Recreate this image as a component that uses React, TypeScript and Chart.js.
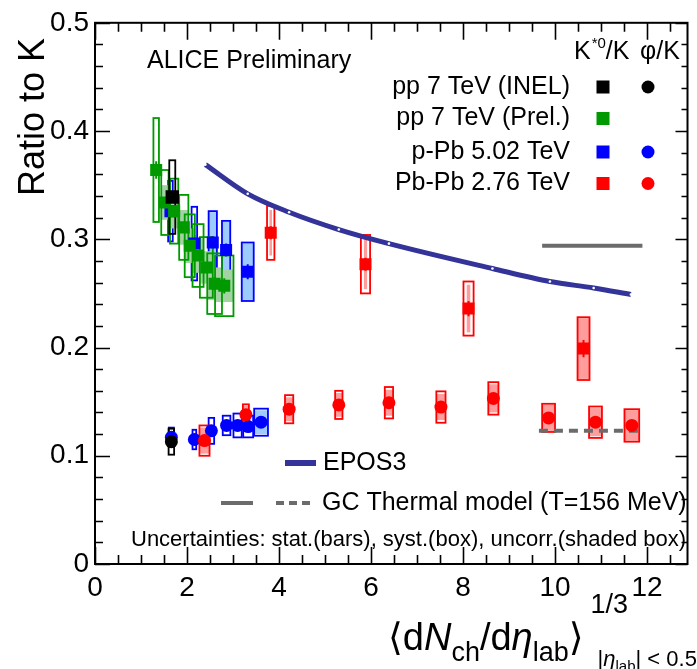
import React, { useEffect, useRef } from "react";
import { Chart, registerables } from "chart.js";
Chart.register(...registerables);

const FONT = '"Liberation Sans", Arial, Helvetica, "DejaVu Sans", sans-serif';
const W = 697;
const H = 669;

// ---------- axes ----------
const xTickValues = [0, 2, 4, 6, 8, 10, 12];
const yTickValues = [0, 0.1, 0.2, 0.3, 0.4, 0.5];
const xMin = 0;
const xMax = 12.88;
const yMin = 0;
const yMax = 0.5;

// ---------- K*0/K, pp 7 TeV (INEL) ----------
const ppInelKstX = [1.68];
const ppInelKstY = [0.339];
const ppInelKstStat = [0.004];
const ppInelKstSyst = [0.034];
const ppInelKstUnc = [0];
const ppInelKstXErr = [0.065];

// ---------- phi/K, pp 7 TeV (INEL) ----------
const ppInelPhiX = [1.66];
const ppInelPhiY = [0.113];
const ppInelPhiStat = [0.003];
const ppInelPhiSyst = [0.012];
const ppInelPhiUnc = [0];
const ppInelPhiXErr = [0.06];

// ---------- K*0/K, pp 7 TeV (Prel.) ----------
const ppPrelKstX = [1.33, 1.52, 1.72, 1.93, 2.06, 2.24, 2.42, 2.6, 2.81];
const ppPrelKstY = [0.364, 0.334, 0.326, 0.311, 0.294, 0.285, 0.274, 0.259, 0.257];
const ppPrelKstStat = [0.008, 0.005, 0.005, 0.005, 0.005, 0.005, 0.005, 0.006, 0.007];
const ppPrelKstSyst = [0.048, 0.03, 0.03, 0.03, 0.029, 0.029, 0.028, 0.028, 0.028];
const ppPrelKstUnc = [0, 0.016, 0.016, 0.016, 0.016, 0.016, 0.015, 0.015, 0.015];
const ppPrelKstXErr = [0.06, 0.08, 0.09, 0.1, 0.11, 0.12, 0.14, 0.16, 0.2];

// ---------- K*0/K, p-Pb 5.02 TeV ----------
const pPbKstX = [1.64, 2.16, 2.56, 2.85, 3.32];
const pPbKstY = [0.326, 0.296, 0.297, 0.29, 0.27];
const pPbKstStat = [0.008, 0.008, 0.006, 0.006, 0.007];
const pPbKstSyst = [0.028, 0.034, 0.029, 0.027, 0.027];
const pPbKstUnc = [0, 0, 0.028, 0.026, 0.026];
const pPbKstXErr = [0.05, 0.06, 0.09, 0.09, 0.13];

// ---------- phi/K, p-Pb 5.02 TeV ----------
const pPbPhiX = [1.66, 2.16, 2.53, 2.86, 3.1, 3.33, 3.61];
const pPbPhiY = [0.117, 0.115, 0.123, 0.128, 0.128, 0.127, 0.131];
const pPbPhiStat = [0.002, 0.002, 0.002, 0.002, 0.002, 0.002, 0.002];
const pPbPhiSyst = [0.009, 0.009, 0.012, 0.009, 0.011, 0.01, 0.0125];
const pPbPhiUnc = [0, 0, 0, 0, 0, 0, 0.011];
const pPbPhiXErr = [0.055, 0.04, 0.06, 0.083, 0.09, 0.108, 0.15];

// ---------- K*0/K, Pb-Pb 2.76 TeV ----------
const pbPbKstX = [3.82, 5.88, 8.12, 10.62];
const pbPbKstY = [0.306, 0.277, 0.236, 0.199];
const pbPbKstStat = [0.006, 0.006, 0.007, 0.008];
const pbPbKstSyst = [0.025, 0.027, 0.025, 0.029];
const pbPbKstUnc = [0.021, 0.023, 0.022, 0.028];
const pbPbKstXErr = [0.08, 0.1, 0.11, 0.13];

// ---------- phi/K, Pb-Pb 2.76 TeV ----------
const pbPbPhiX = [2.38, 3.28, 4.22, 5.3, 6.39, 7.52, 8.66, 9.86, 10.88, 11.67];
const pbPbPhiY = [0.114, 0.138, 0.143, 0.147, 0.149, 0.145, 0.153, 0.135, 0.131, 0.128];
const pbPbPhiStat = [0.003, 0.003, 0.003, 0.003, 0.003, 0.003, 0.003, 0.003, 0.003, 0.003];
const pbPbPhiSyst = [0.014, 0.0095, 0.013, 0.013, 0.0145, 0.0145, 0.015, 0.013, 0.0145, 0.015];
const pbPbPhiUnc = [0.012, 0.008, 0.011, 0.011, 0.012, 0.012, 0.013, 0.012, 0.013, 0.014];
const pbPbPhiXErr = [0.11, 0.065, 0.09, 0.08, 0.09, 0.1, 0.11, 0.14, 0.14, 0.16];

// ---------- EPOS3 (K*0/K) ----------
const eposX = [2.4, 3.32, 4.22, 5.3, 6.39, 8.64, 9.89, 10.84, 11.65];
const eposY = [0.369, 0.342, 0.325, 0.309, 0.296, 0.273, 0.261, 0.255, 0.249];

// ---------- GC thermal model (T=156 MeV) ----------
const thermalKstX = [9.72, 11.9];
const thermalKstY = [0.294, 0.294];
const thermalPhiX = [9.65, 11.85];
const thermalPhiY = [0.123, 0.123];

type Series = {
  x: number[];
  y: number[];
  stat: number[];
  syst: number[];
  unc: number[];
  xErr: number[];
  color: string;
  shade: string;
  shadeFrac?: number[];
};

const GREEN = "#009a00";
const BLUE = "#0000ff";
const RED = "#ff0000";
const NAVY = "#333399";
const GRAY = "#6b6b6b";

const SERIES: Series[] = [
  { x: pPbKstX, y: pPbKstY, stat: pPbKstStat, syst: pPbKstSyst, unc: pPbKstUnc, xErr: pPbKstXErr, color: BLUE, shade: "#9dcbff" },
  { x: pPbPhiX, y: pPbPhiY, stat: pPbPhiStat, syst: pPbPhiSyst, unc: pPbPhiUnc, xErr: pPbPhiXErr, color: BLUE, shade: "#9dcbff" },
  { x: ppPrelKstX, y: ppPrelKstY, stat: ppPrelKstStat, syst: ppPrelKstSyst, unc: ppPrelKstUnc, xErr: ppPrelKstXErr, color: GREEN, shade: "#a3d3a3" },
  { x: ppInelKstX, y: ppInelKstY, stat: ppInelKstStat, syst: ppInelKstSyst, unc: ppInelKstUnc, xErr: ppInelKstXErr, color: "#000", shade: "#aaa" },
  { x: ppInelPhiX, y: ppInelPhiY, stat: ppInelPhiStat, syst: ppInelPhiSyst, unc: ppInelPhiUnc, xErr: ppInelPhiXErr, color: "#000", shade: "#aaa" },
  { x: pbPbPhiX, y: pbPbPhiY, stat: pbPbPhiStat, syst: pbPbPhiSyst, unc: pbPbPhiUnc, xErr: pbPbPhiXErr, color: RED, shade: "#ff9c9c" },
  { x: pbPbKstX, y: pbPbKstY, stat: pbPbKstStat, syst: pbPbKstSyst, unc: pbPbKstUnc, xErr: pbPbKstXErr, color: RED, shade: "#ff9c9c", shadeFrac: [0.35, 0.35, 0.35, 1] },
];

const pts = (xs: number[], ys: number[]) => xs.map((x, i) => ({ x, y: ys[i] }));

const boxesPlugin = {
  id: "errBoxes",
  beforeDatasetsDraw(chart: any) {
    const { ctx, chartArea } = chart;
    const xs = chart.scales.x;
    const ys = chart.scales.y;
    ctx.save();
    ctx.beginPath();
    ctx.rect(chartArea.left, chartArea.top, chartArea.width, chartArea.height);
    ctx.clip();
    for (const s of SERIES) {
      s.x.forEach((xv, i) => {
        if (s.unc[i] <= 0) return;
        const px = xs.getPixelForValue(xv);
        const hw = (xs.getPixelForValue(xv + s.xErr[i]) - px) * (s.shadeFrac ? s.shadeFrac[i] : 1);
        const t = ys.getPixelForValue(s.y[i] + s.unc[i]);
        const b = ys.getPixelForValue(s.y[i] - s.unc[i]);
        ctx.fillStyle = s.shade;
        ctx.fillRect(px - hw, t, 2 * hw, b - t);
      });
      s.x.forEach((xv, i) => {
        const px = xs.getPixelForValue(xv);
        const hw = xs.getPixelForValue(xv + s.xErr[i]) - px;
        const t = ys.getPixelForValue(s.y[i] + s.syst[i]);
        const b = ys.getPixelForValue(s.y[i] - s.syst[i]);
        ctx.strokeStyle = s.color;
        ctx.lineWidth = 1.8;
        ctx.strokeRect(px - hw, t, 2 * hw, b - t);
      });
      s.x.forEach((xv, i) => {
        const px = xs.getPixelForValue(xv);
        const t = ys.getPixelForValue(s.y[i] + s.stat[i]);
        const b = ys.getPixelForValue(s.y[i] - s.stat[i]);
        ctx.strokeStyle = s.color;
        ctx.lineWidth = 2;
        ctx.beginPath();
        ctx.moveTo(px, t);
        ctx.lineTo(px, b);
        ctx.stroke();
      });
    }
    ctx.restore();
  },
};

function drawRich(ctx: CanvasRenderingContext2D, x: number, y: number, parts: { t: string; size: number; italic?: boolean; dy?: number }[]) {
  for (const p of parts) {
    ctx.font = `${p.italic ? "italic " : ""}${p.size}px ${FONT}`;
    ctx.fillText(p.t, x, y + (p.dy || 0));
    x += ctx.measureText(p.t).width;
  }
  return x;
}

const decorPlugin = {
  id: "decor",
  afterDraw(chart: any) {
    const { ctx, chartArea } = chart;
    const xs = chart.scales.x;
    const ys = chart.scales.y;
    const { left, right, top, bottom } = chartArea;
    ctx.save();
    ctx.strokeStyle = "#000";
    ctx.lineWidth = 2;
    ctx.strokeRect(left, top, right - left, bottom - top);
    ctx.lineWidth = 1.6;
    for (let v = 0; v <= xMax + 1e-9; v += 0.5) {
      const px = Math.round(xs.getPixelForValue(v)) + 0.5;
      const major = Math.abs(v / 2 - Math.round(v / 2)) < 1e-6;
      const L = major ? 17 : 9;
      ctx.beginPath();
      ctx.moveTo(px, bottom);
      ctx.lineTo(px, bottom - L);
      ctx.moveTo(px, top);
      ctx.lineTo(px, top + L);
      ctx.stroke();
    }
    for (let k = 0; k <= 25; k++) {
      const v = k * 0.02;
      const py = Math.round(ys.getPixelForValue(v)) + 0.5;
      const major = k % 5 === 0;
      const L = major ? 15 : 8;
      const R = major ? 12 : 6;
      ctx.beginPath();
      ctx.moveTo(left, py);
      ctx.lineTo(left + L, py);
      ctx.moveTo(right, py);
      ctx.lineTo(right - R, py);
      ctx.stroke();
    }

    ctx.fillStyle = "#000";
    ctx.textBaseline = "alphabetic";
    ctx.textAlign = "left";

    // y title
    ctx.save();
    ctx.translate(44, 38);
    ctx.rotate(-Math.PI / 2);
    ctx.textAlign = "right";
    ctx.font = `36px ${FONT}`;
    ctx.fillText("Ratio to K", 0, 0);
    ctx.restore();

    // x title
    const base = 650;
    const e = drawRich(ctx, 388, base, [
      { t: "\u27E8", size: 38 },
      { t: "d", size: 38 },
      { t: "N", size: 38, italic: true },
      { t: "ch", size: 27, dy: 11 },
      { t: "/d", size: 38 },
      { t: "\u03B7", size: 38, italic: true },
      { t: "lab", size: 27, dy: 11 },
      { t: "\u27E9", size: 38 },
    ]);
    drawRich(ctx, e + 7, base - 37, [{ t: "1/3", size: 27 }]);
    drawRich(ctx, e + 14, base + 16, [
      { t: "|", size: 22 },
      { t: "\u03B7", size: 22, italic: true },
      { t: "lab", size: 15, dy: 5 },
      { t: "| < 0.5", size: 22 },
    ]);

    // ALICE label
    ctx.textBaseline = "middle";
    ctx.font = `25px ${FONT}`;
    ctx.fillText("ALICE Preliminary", 147, 61);

    // legend header
    const hx = drawRich(ctx, 574, 52, [{ t: "K", size: 25 }]);
    const hx2 = drawRich(ctx, hx + 1, 44, [{ t: "*0", size: 15 }]);
    drawRich(ctx, hx2, 52, [{ t: "/K", size: 25 }]);
    drawRich(ctx, 640, 52, [{ t: "\u03C6/K", size: 25 }]);

    const rows = [
      { label: "pp 7 TeV (INEL)", color: "#000", phi: true, y: 87 },
      { label: "pp 7 TeV (Prel.)", color: GREEN, phi: false, y: 118.5 },
      { label: "p-Pb 5.02 TeV", color: BLUE, phi: true, y: 152 },
      { label: "Pb-Pb 2.76 TeV", color: RED, phi: true, y: 183.5 },
    ];
    ctx.textAlign = "right";
    ctx.font = `25px ${FONT}`;
    for (const r of rows) {
      ctx.fillStyle = "#000";
      ctx.fillText(r.label, 570, r.y);
      ctx.fillStyle = r.color;
      ctx.fillRect(603 - 6.5, r.y - 6.5, 13, 13);
      if (r.phi) {
        ctx.beginPath();
        ctx.arc(648, r.y, 6.5, 0, Math.PI * 2);
        ctx.fill();
      }
    }

    // bottom legend
    ctx.textAlign = "left";
    ctx.fillStyle = "#000";
    ctx.strokeStyle = NAVY;
    ctx.lineWidth = 6;
    ctx.beginPath();
    ctx.moveTo(285, 463);
    ctx.lineTo(316, 463);
    ctx.stroke();
    ctx.font = `25px ${FONT}`;
    ctx.fillText("EPOS3", 323, 463);

    ctx.strokeStyle = GRAY;
    ctx.lineWidth = 4;
    ctx.beginPath();
    ctx.moveTo(221, 503);
    ctx.lineTo(253, 503);
    ctx.stroke();
    ctx.setLineDash([8, 5]);
    ctx.beginPath();
    ctx.moveTo(276, 503);
    ctx.lineTo(310, 503);
    ctx.stroke();
    ctx.setLineDash([]);
    ctx.fillText("GC Thermal model (T=156 MeV)", 322, 503);

    ctx.font = `22px ${FONT}`;
    ctx.fillText("Uncertainties: stat.(bars), syst.(box), uncorr.(shaded box)", 131, 540);
    ctx.restore();
  },
};

export default function App() {
  const ref = useRef<HTMLCanvasElement>(null);
  useEffect(() => {
    document.body.style.margin = "0";
    const canvas = ref.current!;
    const chart = new Chart(canvas, {
      type: "scatter",
      data: {
        datasets: [
          { label: "phi/K Pb-Pb", data: pts(pbPbPhiX, pbPbPhiY), pointStyle: "circle", pointRadius: 6.5, backgroundColor: RED, borderWidth: 0, order: 1 },
          { label: "K*/K Pb-Pb", data: pts(pbPbKstX, pbPbKstY), pointStyle: "rect", pointRadius: 8.5, backgroundColor: RED, borderWidth: 0, order: 2 },
          { label: "K*/K pp INEL", data: pts(ppInelKstX, ppInelKstY), pointStyle: "rect", pointRadius: 9.5, backgroundColor: "#000", borderWidth: 0, order: 3 },
          { label: "phi/K pp INEL", data: pts(ppInelPhiX, ppInelPhiY), pointStyle: "circle", pointRadius: 6.5, backgroundColor: "#000", borderWidth: 0, order: 3 },
          { label: "K*/K pp Prel", data: pts(ppPrelKstX, ppPrelKstY), pointStyle: "rect", pointRadius: 8.5, backgroundColor: GREEN, borderWidth: 0, order: 5 },
          { label: "K*/K p-Pb", data: pts(pPbKstX, pPbKstY), pointStyle: "rect", pointRadius: 8.5, backgroundColor: BLUE, borderWidth: 0, order: 6 },
          { label: "phi/K p-Pb", data: pts(pPbPhiX, pPbPhiY), pointStyle: "circle", pointRadius: 6.5, backgroundColor: BLUE, borderWidth: 0, order: 6 },
          { type: "line", label: "EPOS3", data: pts(eposX, eposY), borderColor: NAVY, borderWidth: 5, pointRadius: 1.3, pointBackgroundColor: "#fff", pointBorderWidth: 0, cubicInterpolationMode: "monotone", fill: false, order: 8 },
          { type: "line", label: "GC thermal K*", data: pts(thermalKstX, thermalKstY), borderColor: GRAY, borderWidth: 4, pointRadius: 0, fill: false, order: 9 },
          { type: "line", label: "GC thermal phi", data: pts(thermalPhiX, thermalPhiY), borderColor: GRAY, borderWidth: 4, borderDash: [9, 6], pointRadius: 0, fill: false, order: 9 },
        ] as any,
      },
      options: {
        responsive: false,
        maintainAspectRatio: false,
        animation: false,
        devicePixelRatio: 1,
        layout: { padding: { left: 0, right: 7, top: 20, bottom: 0 } },
        plugins: { legend: { display: false }, tooltip: { enabled: false } },
        scales: {
          x: {
            type: "linear",
            min: xMin,
            max: xMax,
            grid: { display: false, drawTicks: false },
            border: { display: false },
            ticks: { font: { size: 28, family: FONT }, color: "#000", padding: 7, maxRotation: 0, autoSkip: false, callback: (v: any) => String(v) },
            afterBuildTicks: (s: any) => {
              s.ticks = xTickValues.map((v) => ({ value: v }));
            },
            afterFit: (s: any) => {
              s.height = 105;
            },
          },
          y: {
            type: "linear",
            min: yMin,
            max: yMax,
            grid: { display: false, drawTicks: false },
            border: { display: false },
            ticks: { font: { size: 28, family: FONT }, color: "#000", padding: 6, autoSkip: false, callback: (v: any) => (v === 0 ? "0" : Number(v).toFixed(1)) },
            afterBuildTicks: (s: any) => {
              s.ticks = yTickValues.map((v) => ({ value: v }));
            },
            afterFit: (s: any) => {
              s.width = 95;
            },
          },
        },
      } as any,
      plugins: [boxesPlugin, decorPlugin],
    });
    return () => chart.destroy();
  }, []);
  return (
    <div style={{ position: "fixed", left: 0, top: 0, width: W, height: H, background: "#fff" }}>
      <canvas ref={ref} width={W} height={H} style={{ width: W, height: H, display: "block" }} />
    </div>
  );
}
